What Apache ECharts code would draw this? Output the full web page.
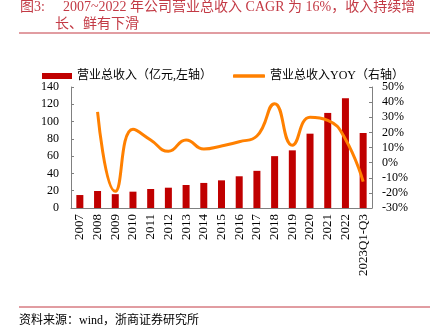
<!DOCTYPE html>
<html><head><meta charset="utf-8">
<script src="https://cdn.jsdelivr.net/npm/echarts@6/dist/echarts.min.js"></script>
<style>html,body{margin:0;padding:0;background:#fff}#c{width:440px;height:334px}</style>
</head><body><div id="c"></div>
<script>
const categories = ['2007','2008','2009','2010','2011','2012','2013','2014','2015','2016','2017','2018','2019','2020','2021','2022','2023Q1-Q3'];
const revenue = [15, 19.7, 16, 18.9, 22, 23.5, 26.6, 29, 32, 36.7, 43, 60, 66.7, 86, 110, 127, 86.8];
const yoy = [null, 33.5, -19, 22, 15, 7.5, 15, 9, 11, 13.8, 17.6, 39, 11.5, 30, 28, 15.5, -12.6];
const leftTicks = {min: 0, max: 140, interval: 20};
const rightTicks = {min: -30, max: 50, interval: 10};
const nameBar = '营业总收入（亿元,左轴）';
const nameLine = '营业总收入YOY（右轴）';

const serif = '"Liberation Serif","Noto Sans CJK SC",serif';
const red = '#c33a45';
const chart = echarts.init(document.getElementById('c'), null, {renderer: 'canvas'});
chart.setOption({
  animation: false,
  textStyle: {fontFamily: serif},
  grid: {left: 71, right: 68, top: 87, bottom: 126},
  legend: [
    {left: 37, top: 65, itemGap: 0, itemWidth: 30, itemHeight: 6,
     textStyle: {fontSize: 12, color: '#000', fontFamily: serif},
     data: [{name: nameBar, icon: 'rect'}]},
    {left: 228, top: 65, itemGap: 0, itemWidth: 32, itemHeight: 3.5,
     textStyle: {fontSize: 12, color: '#000', fontFamily: serif},
     data: [{name: nameLine, icon: 'roundRect'}]}
  ],
  graphic: [
    {type: 'text', left: 20, top: 0, style: {text: '图3:', font: '14px ' + serif, fill: red}},
    {type: 'text', left: 63, top: 0, style: {text: '2007~2022 年公司营业总收入 CAGR 为 16%，收入持续增', font: '14px ' + serif, fill: red}},
    {type: 'text', left: 55, top: 17, style: {text: '长、鲜有下滑', font: '14px ' + serif, fill: red}},
    {type: 'line', shape: {x1: 19, y1: 33, x2: 430, y2: 33}, style: {stroke: red, lineWidth: 1}},
    {type: 'line', shape: {x1: 19, y1: 307, x2: 430, y2: 307}, style: {stroke: red, lineWidth: 1}},
    {type: 'text', left: 19, top: 315, style: {text: '资料来源：wind，浙商证券研究所', font: '12px ' + serif, fill: '#000'}}
  ],
  xAxis: {
    type: 'category', data: categories,
    axisLine: {lineStyle: {color: '#808080'}},
    axisTick: {inside: true, length: 3, lineStyle: {color: '#808080'}},
    axisLabel: {rotate: 90, fontSize: 13, color: '#000', margin: 6, fontFamily: serif}
  },
  yAxis: [
    {type: 'value', min: leftTicks.min, max: leftTicks.max, interval: leftTicks.interval,
     splitLine: {show: false},
     axisLine: {show: true, lineStyle: {color: '#808080'}},
     axisTick: {show: true, inside: true, length: 3, lineStyle: {color: '#808080'}},
     axisLabel: {fontSize: 12, color: '#000', margin: 12, fontFamily: serif}},
    {type: 'value', min: rightTicks.min, max: rightTicks.max, interval: rightTicks.interval,
     splitLine: {show: false},
     axisLine: {show: true, lineStyle: {color: '#808080'}},
     axisTick: {show: true, inside: true, length: 3, lineStyle: {color: '#808080'}},
     axisLabel: {fontSize: 12, color: '#000', margin: 10, formatter: '{value}%', fontFamily: serif}}
  ],
  series: [
    {name: nameBar, type: 'bar', data: revenue, barWidth: 7, itemStyle: {color: '#c00000'}},
    {name: nameLine, type: 'line', yAxisIndex: 1, data: yoy, smooth: 0.5, symbol: 'none',
     lineStyle: {color: '#ff8000', width: 3}, itemStyle: {color: '#ff8000'}}
  ]
});
</script></body></html>
